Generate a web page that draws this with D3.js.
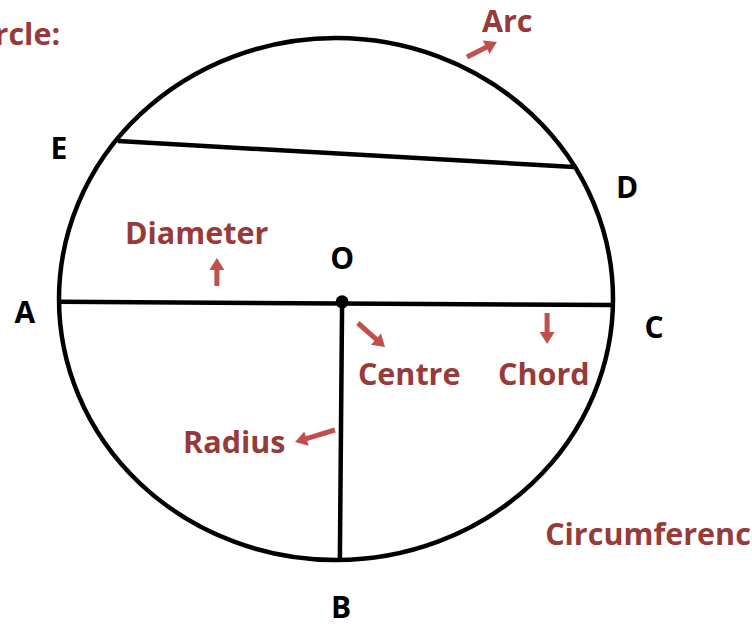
<!DOCTYPE html>
<html>
<head>
<meta charset="utf-8">
<script src="https://d3js.org/d3.v7.min.js"></script>
<style>
  body { margin: 0; background: #fff; }
  text { font-family: "Open Sans", "DejaVu Sans", sans-serif; font-weight: bold; }
</style>
</head>
<body>
<svg id="plot"></svg>
<script>
// diagram coordinates: the circle spans -1..1 on both axes (y up)
var points = [
    {name: "A", x: -1.0,  y: -0.011},
    {name: "C", x: 1.0,   y: -0.023},
    {name: "O", x: 0.022, y: -0.011},
    {name: "B", x: 0.014, y: -0.992},
    {name: "E", x: -0.787, y: 0.605},
    {name: "D", x: 0.859, y: 0.506}
];

// segments drawn between named points
var segments = [["A", "C"], ["O", "B"], ["E", "D"]];

// point letters (black) and where they sit
var letterNames = ["E", "D", "O", "A", "C", "B"];
var letterX = [-1.0, 1.051, 0.022, -1.123, 1.148, 0.018];
var letterY = [0.536, 0.387, 0.115, -0.092, -0.149, -1.222];

// red term labels
var termNames = ["Circle:", "Arc", "Diameter", "Centre", "Chord", "Radius", "Circumference"];
var termX = [-0.996, 0.527, -0.762, 0.079, 0.585, -0.552, 0.755];
var termY = [0.973, 1.023, 0.211, -0.330, -0.330, -0.590, -0.943];
var termAnchor = ["end", "start", "start", "start", "start", "start", "start"];

// arrows: tail -> head
var arrowTail = [[0.473, 0.927], [-0.430, 0.050], [0.079, -0.092], [0.762, -0.054], [-0.004, -0.502]];
var arrowHead = [[0.581, 0.985], [-0.430, 0.157], [0.177, -0.184], [0.762, -0.172], [-0.148, -0.548]];

var width = 752, height = 626;
var ink = "#000", termColor = "#973a3a", arrowColor = "#c0504d";

var svg = d3.select("#plot")
    .attr("width", width)
    .attr("height", height);

var xScale = d3.scaleLinear().domain([-1, 1]).range([59, 613]);
var yScale = d3.scaleLinear().domain([-1, 1]).range([560, 38]);

var byName = {};
points.forEach(function(p) { byName[p.name] = p; });

// the circle itself
svg.append("ellipse")
    .attr("cx", xScale(0))
    .attr("cy", yScale(0))
    .attr("rx", xScale(1) - xScale(0))
    .attr("ry", yScale(0) - yScale(1))
    .attr("fill", "none")
    .attr("stroke", ink)
    .attr("stroke-width", 4.5);

svg.selectAll("line.seg")
    .data(segments)
    .enter()
    .append("line")
    .classed("seg", true)
    .attr("x1", function(s) { return xScale(byName[s[0]].x); })
    .attr("y1", function(s) { return yScale(byName[s[0]].y); })
    .attr("x2", function(s) { return xScale(byName[s[1]].x); })
    .attr("y2", function(s) { return yScale(byName[s[1]].y); })
    .attr("stroke", ink)
    .attr("stroke-width", 4.5);

svg.append("circle")
    .attr("cx", xScale(byName.O.x))
    .attr("cy", yScale(byName.O.y))
    .attr("r", 6.5)
    .attr("fill", ink);

// arrows as polygons built in pixel space
var arrowPath = function(i)
{
    var x1 = xScale(arrowTail[i][0]), y1 = yScale(arrowTail[i][1]);
    var x2 = xScale(arrowHead[i][0]), y2 = yScale(arrowHead[i][1]);
    var dx = x2 - x1, dy = y2 - y1;
    var len = Math.sqrt(dx * dx + dy * dy);
    var ux = dx / len, uy = dy / len;
    var nx = -uy, ny = ux;
    var hl = 12, hw = 7.5, sw = 2.5;
    var bx = x2 - ux * hl, by = y2 - uy * hl;
    var pts = [
        [x1 + nx * sw, y1 + ny * sw],
        [bx + nx * sw, by + ny * sw],
        [bx + nx * hw, by + ny * hw],
        [x2, y2],
        [bx - nx * hw, by - ny * hw],
        [bx - nx * sw, by - ny * sw],
        [x1 - nx * sw, y1 - ny * sw]
    ];
    return "M" + pts.map(function(p) { return p[0].toFixed(1) + "," + p[1].toFixed(1); }).join("L") + "Z";
};

svg.selectAll("path.arrow")
    .data(d3.range(arrowTail.length))
    .enter()
    .append("path")
    .classed("arrow", true)
    .attr("d", arrowPath)
    .attr("fill", arrowColor);

svg.selectAll("text.letter")
    .data(letterNames)
    .enter()
    .append("text")
    .classed("letter", true)
    .attr("x", function(d, i) { return xScale(letterX[i]); })
    .attr("y", function(d, i) { return yScale(letterY[i]); })
    .attr("text-anchor", "middle")
    .attr("font-size", 30)
    .attr("fill", ink)
    .text(function(d) { return d; });

svg.selectAll("text.term")
    .data(termNames)
    .enter()
    .append("text")
    .classed("term", true)
    .attr("x", function(d, i) { return xScale(termX[i]); })
    .attr("y", function(d, i) { return yScale(termY[i]); })
    .attr("text-anchor", function(d, i) { return termAnchor[i]; })
    .attr("font-size", 30.5)
    .attr("fill", termColor)
    .text(function(d) { return d; });
</script>
</body>
</html>
